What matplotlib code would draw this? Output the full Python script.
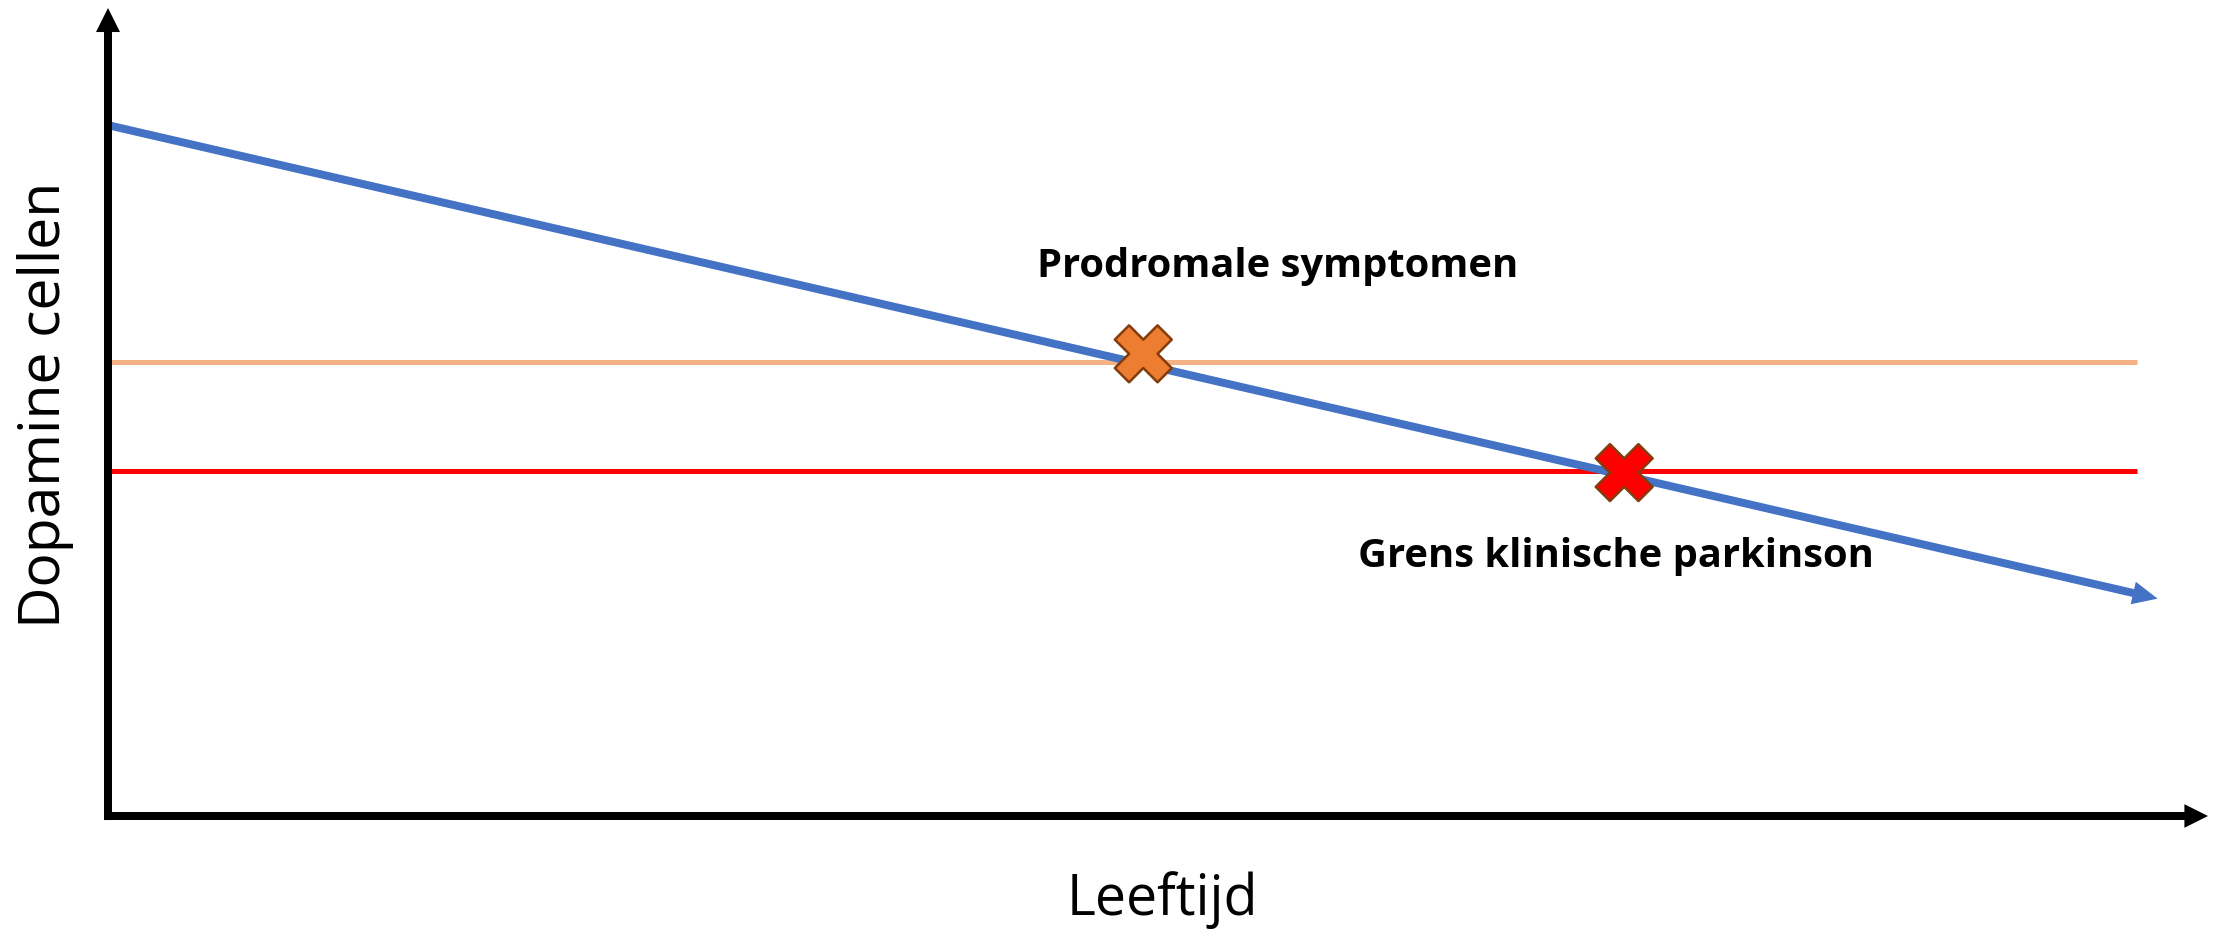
import matplotlib
matplotlib.use("Agg")
import matplotlib.pyplot as plt

# data (age on x, dopamine cells on y, both in 0-100 units)
decline_age = [0.0, 97.6]
decline_cells = [85.5, 26.9]
prodromal_level = 56.2
clinical_level = 42.7
level_end = 96.6
marker_age = [49.3, 72.2]
marker_cells = [57.2, 42.5]
marker_colors = ["#ED7D31", "#FF0000"]
labels = ["Prodromale symptomen", "Grens klinische parkinson"]
label_pos = [(55.7, 66.7), (71.8, 30.8)]

plt.rcParams['font.family'] = ['Open Sans', 'DejaVu Sans']

fig = plt.figure(figsize=(22.15, 9.3), dpi=100)
ax = fig.add_axes([108 / 2215, 114 / 930, 2100 / 2215, 808 / 930])
ax.set_xlim(0, 100)
ax.set_ylim(0, 100)
ax.axis("off")


def arrow(x0, y0, x1, y1, color, tail, hl, hw, z):
    ax.annotate("", xy=(x1, y1), xytext=(x0, y0), annotation_clip=False,
                arrowprops=dict(arrowstyle=f"simple,head_length={hl},head_width={hw},tail_width={tail}",
                                color=color, lw=0, shrinkA=0, shrinkB=0, mutation_scale=10),
                zorder=z)


# axes with arrow heads
arrow(-0.19, 0, 100, 0, "black", 0.576, 1.7, 1.7, 5)
arrow(0, -0.5, 0, 100, "black", 0.576, 1.73, 1.73, 5)

# threshold lines
ax.plot([0, level_end], [prodromal_level] * 2, color="#F4B183", lw=3.6, zorder=2, solid_capstyle="butt")
ax.plot([0, level_end], [clinical_level] * 2, color="#FF0000", lw=3.6, zorder=2, solid_capstyle="butt")

# dopamine decline
arrow(decline_age[0], decline_cells[0], decline_age[1], decline_cells[1], "#4472C4", 0.576, 1.8, 1.66, 3)

ax.scatter(marker_age, marker_cells, marker="X", s=41 ** 2, c=marker_colors,
           edgecolors="#843C0C", linewidths=1.8, zorder=6)

for txt, (x, y) in zip(labels, label_pos):
    ax.text(x, y, txt, ha="center", va="baseline", fontsize=28.7, fontweight="bold", zorder=7)

fig.text(1162 / 2215, 15 / 930, "Leeftijd", ha="center", va="baseline", fontsize=40)
fig.text(60 / 2215, 525 / 930, "Dopamine cellen", ha="center", va="baseline",
         rotation=90, rotation_mode="anchor", fontsize=41)

fig.savefig("out.png", dpi=100)
